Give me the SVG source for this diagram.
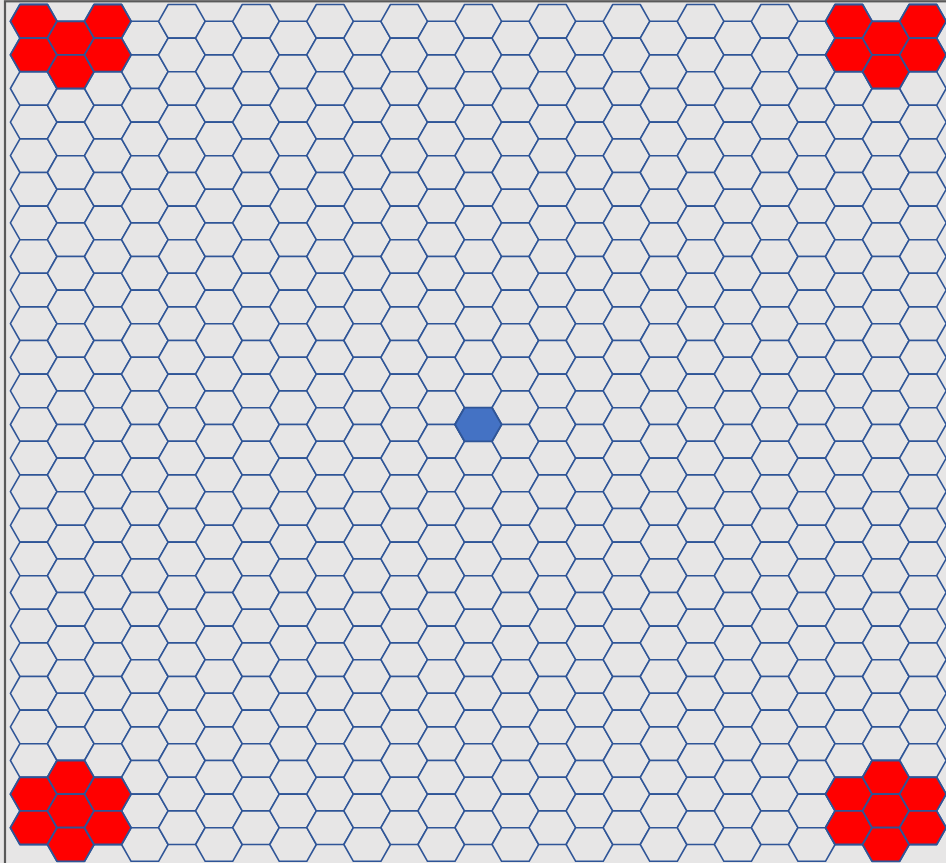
<svg xmlns="http://www.w3.org/2000/svg" xmlns:xlink="http://www.w3.org/1999/xlink" width="946" height="863" viewBox="0 0 946 863">
<style>
.cell{fill:#e7e6e6;stroke:#2f5597;stroke-width:1.6;stroke-linejoin:round}
.red{fill:#ff0000;stroke:#2f5597;stroke-width:1.8;stroke-linejoin:round}
.blue{fill:#4472c4;stroke:#2f5597;stroke-width:1.8;stroke-linejoin:round}
</style>
<defs>
<polygon id="hx" points="-23.3,0 -13.75,-16.8 13.75,-16.8 23.3,0 13.75,16.8 -13.75,16.8"/>
<g id="colE">
<use href="#hx" y="21.3"/><use href="#hx" y="54.9"/><use href="#hx" y="88.5"/><use href="#hx" y="122.1"/><use href="#hx" y="155.7"/><use href="#hx" y="189.3"/><use href="#hx" y="222.9"/><use href="#hx" y="256.5"/><use href="#hx" y="290.1"/><use href="#hx" y="323.7"/><use href="#hx" y="357.3"/><use href="#hx" y="390.9"/><use href="#hx" y="424.5"/><use href="#hx" y="458.1"/><use href="#hx" y="491.7"/><use href="#hx" y="525.3"/><use href="#hx" y="558.9"/><use href="#hx" y="592.5"/><use href="#hx" y="626.1"/><use href="#hx" y="659.7"/><use href="#hx" y="693.3"/><use href="#hx" y="726.9"/><use href="#hx" y="760.5"/><use href="#hx" y="794.1"/><use href="#hx" y="827.7"/>
</g>
<g id="colO">
<use href="#hx" y="38.1"/><use href="#hx" y="71.7"/><use href="#hx" y="105.3"/><use href="#hx" y="138.9"/><use href="#hx" y="172.5"/><use href="#hx" y="206.1"/><use href="#hx" y="239.7"/><use href="#hx" y="273.3"/><use href="#hx" y="306.9"/><use href="#hx" y="340.5"/><use href="#hx" y="374.1"/><use href="#hx" y="407.7"/><use href="#hx" y="441.3"/><use href="#hx" y="474.9"/><use href="#hx" y="508.5"/><use href="#hx" y="542.1"/><use href="#hx" y="575.7"/><use href="#hx" y="609.3"/><use href="#hx" y="642.9"/><use href="#hx" y="676.5"/><use href="#hx" y="710.1"/><use href="#hx" y="743.7"/><use href="#hx" y="777.3"/><use href="#hx" y="810.9"/><use href="#hx" y="844.5"/>
</g>
</defs>
<rect x="0" y="0" width="946" height="863" fill="#e7e6e6"/>
<g id="grid" class="cell">
<use href="#colE" x="33.7"/><use href="#colO" x="70.75"/><use href="#colE" x="107.8"/><use href="#colO" x="144.85"/><use href="#colE" x="181.9"/><use href="#colO" x="218.95"/><use href="#colE" x="256"/><use href="#colO" x="293.05"/><use href="#colE" x="330.1"/><use href="#colO" x="367.15"/><use href="#colE" x="404.2"/><use href="#colO" x="441.25"/><use href="#colE" x="478.3"/><use href="#colO" x="515.35"/><use href="#colE" x="552.4"/><use href="#colO" x="589.45"/><use href="#colE" x="626.5"/><use href="#colO" x="663.55"/><use href="#colE" x="700.6"/><use href="#colO" x="737.65"/><use href="#colE" x="774.7"/><use href="#colO" x="811.75"/><use href="#colE" x="848.8"/><use href="#colO" x="885.85"/><use href="#colE" x="922.9"/>
</g>
<g id="red-top-left" class="red">
<use href="#hx" x="33.7" y="21.3"/><use href="#hx" x="33.7" y="54.9"/><use href="#hx" x="70.75" y="38.1"/><use href="#hx" x="70.75" y="71.7"/><use href="#hx" x="107.8" y="21.3"/><use href="#hx" x="107.8" y="54.9"/>
</g>
<g id="red-top-right" class="red">
<use href="#hx" x="848.8" y="21.3"/><use href="#hx" x="848.8" y="54.9"/><use href="#hx" x="885.85" y="38.1"/><use href="#hx" x="885.85" y="71.7"/><use href="#hx" x="922.9" y="21.3"/><use href="#hx" x="922.9" y="54.9"/>
</g>
<g id="red-bottom-left" class="red">
<use href="#hx" x="33.7" y="794.1"/><use href="#hx" x="33.7" y="827.7"/><use href="#hx" x="70.75" y="777.3"/><use href="#hx" x="70.75" y="810.9"/><use href="#hx" x="70.75" y="844.5"/><use href="#hx" x="107.8" y="794.1"/><use href="#hx" x="107.8" y="827.7"/>
</g>
<g id="red-bottom-right" class="red">
<use href="#hx" x="848.8" y="794.1"/><use href="#hx" x="848.8" y="827.7"/><use href="#hx" x="885.85" y="777.3"/><use href="#hx" x="885.85" y="810.9"/><use href="#hx" x="885.85" y="844.5"/><use href="#hx" x="922.9" y="794.1"/><use href="#hx" x="922.9" y="827.7"/>
</g>
<g id="blue-center" class="blue">
<use href="#hx" x="478.3" y="424.5"/>
</g>
<rect x="5" y="1.3" width="1000" height="1000" fill="none" stroke="#595959" stroke-width="2.2"/>
</svg>
